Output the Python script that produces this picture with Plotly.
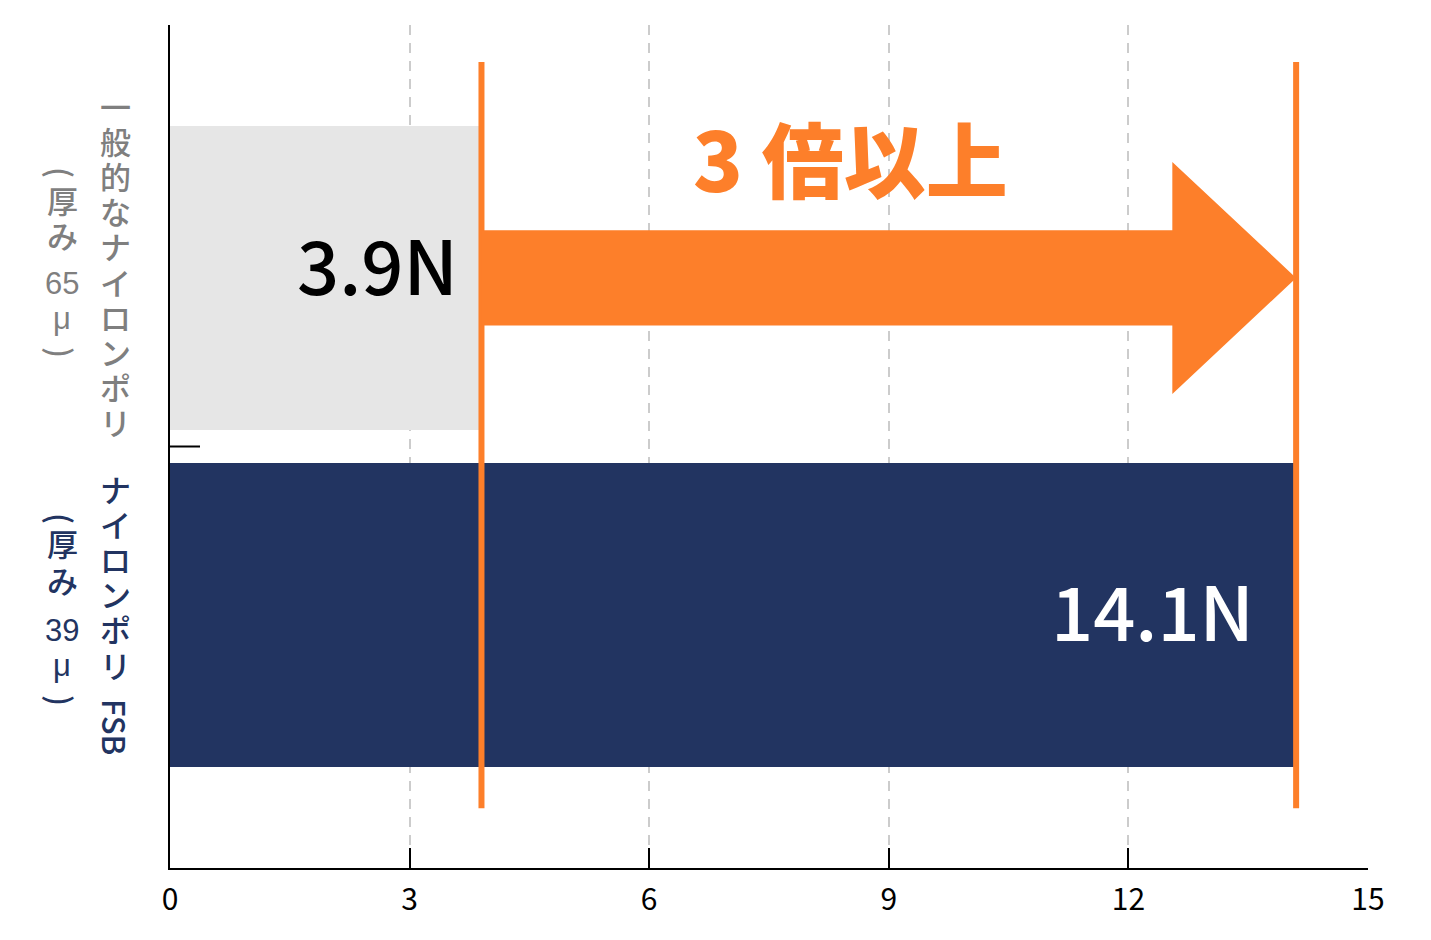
import plotly.graph_objects as go

# ---------------- data ----------------
categories = ["一般的なナイロンポリ（厚み 65 μ）", "ナイロンポリ FSB（厚み 39 μ）"]
cat_names = ["一般的なナイロンポリ", "ナイロンポリ"]
cat_suffix = ["", "FSB"]
cat_thickness = [["(", "厚", "み", "65", "μ", ")"], ["(", "厚", "み", "39", "μ", ")"]]
values = [3.9, 14.1]
value_labels = ["3.9N", "14.1N"]
ratio_label = "3 倍以上"
x_ticks = [0, 3, 6, 9, 12, 15]
x_tick_text = ["0", "3", "6", "9", "12", "15"]

# ---------------- style ----------------
FONT = "Noto Sans CJK JP"
TIGHT = "Liberation Sans, Noto Sans CJK JP"
BAR_COLORS = ["#e6e6e6", "#223461"]
LABEL_COLORS = ["#7f7f7f", "#223461"]
TEXT_COLORS = ["#000000", "#ffffff"]
ORANGE = "#fd7f2a"

OFF = 8                     # page body margin
W, H = 1431 - 2 * OFF, 940 - 2 * OFF
PL, PR, PT, PB = 170, 1368, 25, 868   # plot area on screen
ML, MT = PL - OFF, PT - OFF
MR = W - (PR - OFF)
MB = H - (PB - OFF)
PW, PH = PR - PL, PB - PT

def py2paper(py):
    return (PB - py) / PH

n = len(categories)
ypos = [n - 1 - i for i in range(n)]   # top category first

fig = go.Figure()
fig.add_bar(
    x=values, y=ypos, orientation="h", width=0.9,
    marker=dict(color=BAR_COLORS, line=dict(width=0)),
    hoverinfo="skip", showlegend=False,
)

# orange reference lines at both values
for v in values:
    fig.add_shape(type="line", x0=v, x1=v, y0=-0.573, y1=1.64,
                  xref="x", yref="y", line=dict(color=ORANGE, width=6), layer="above")

# big arrow from first value to second value at top category
yc = ypos[0]
x0, xt = values[0], values[1]
xn = 12.55
sh, hh = 0.141, 0.344
path = (f"M {x0},{yc - sh} L {xn},{yc - sh} L {xn},{yc - hh} L {xt},{yc} "
        f"L {xn},{yc + hh} L {xn},{yc + sh} L {x0},{yc + sh} Z")
fig.add_shape(type="path", path=path, xref="x", yref="y",
              fillcolor=ORANGE, line=dict(width=0), layer="above")

# small tick between categories on y axis
fig.add_shape(type="line", xref="paper", yref="y", x0=0, x1=30 / PW,
              y0=0.5, y1=0.5, line=dict(color="black", width=2))

# value labels
shifts = [-21, -40]
yshifts = [15, 7]
for i, (v, lab) in enumerate(zip(values, value_labels)):
    fig.add_annotation(x=v, y=ypos[i], xref="x", yref="y", text=lab,
                       showarrow=False, xanchor="right", yanchor="middle",
                       xshift=shifts[i], yshift=yshifts[i],
                       font=dict(family=FONT, size=74, color=TEXT_COLORS[i], weight=500))

# ratio label
fig.add_annotation(x=(851 - PL) / PW, y=py2paper(156), xref="paper", yref="paper",
                   text=ratio_label, showarrow=False, xanchor="center", yanchor="middle",
                   font=dict(family=FONT, size=82, color=ORANGE, weight=900))

# vertical category labels (one glyph per annotation, stacked)
GLYPH = 31
def vchar(ch, px, py, color, angle=0, family=TIGHT):
    fig.add_annotation(x=0, xref="paper", xshift=px - PL, y=py2paper(py), yref="paper",
                       text=ch, showarrow=False, xanchor="center", yanchor="middle",
                       textangle=angle,
                       font=dict(family=family, size=GLYPH, color=color, weight=500))

name_start = [108, 491]
pitch = 35.2
suffix_pos = [None, 727]
thick_pos = [[172, 202, 238, 283, 318, 352], [518, 545, 582, 630, 665, 700]]
for i in range(n):
    col = LABEL_COLORS[i]
    for k, ch in enumerate(cat_names[i]):
        vchar(ch, 115, name_start[i] + pitch * k, col)
    if cat_suffix[i]:
        vchar(cat_suffix[i], 116, suffix_pos[i], col, angle=90, family=FONT)
    for k, tok in enumerate(cat_thickness[i]):
        if tok in ("(", ")"):
            vchar(tok, 62, thick_pos[i][k], col, angle=90, family=FONT)
        else:
            vchar(tok, 62, thick_pos[i][k], col)

fig.update_layout(
    width=W, height=H,
    margin=dict(l=ML, r=MR, t=MT, b=MB),
    plot_bgcolor="white", paper_bgcolor="white",
    bargap=0,
    xaxis=dict(range=[0, 15], tickvals=x_ticks, ticktext=x_tick_text,
               ticks="inside", ticklen=20, tickwidth=2, tickcolor="black",
               showline=True, linecolor="black", linewidth=2,
               showgrid=True, gridcolor="#cccccc", gridwidth=2, griddash="10px,8px",
               zeroline=False, ticklabelstandoff=4,
               tickfont=dict(family=FONT, size=30, color="black")),
    yaxis=dict(range=[-0.75, 1.75], showticklabels=False, showline=True,
               linecolor="black", linewidth=2, showgrid=False, zeroline=False,
               ticks=""),
)

fig.write_html("out.html")
